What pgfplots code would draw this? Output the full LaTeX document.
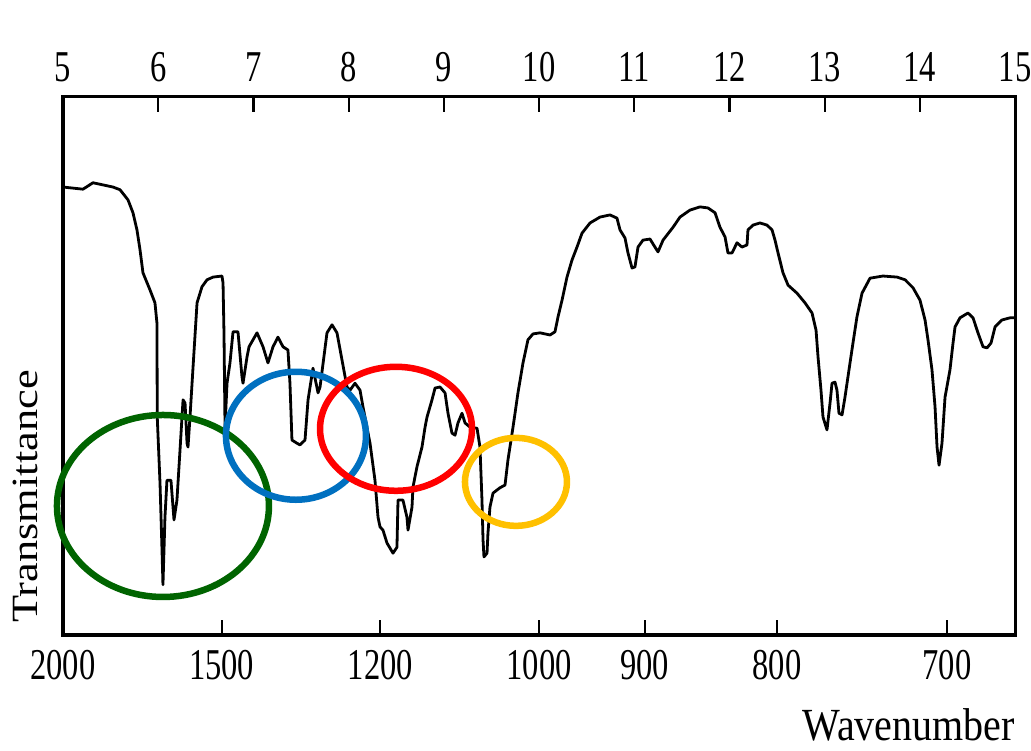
\documentclass[border=0pt]{standalone}
\usepackage{pgfplots}
\pgfplotsset{compat=1.18}
\usepackage{fontspec}
\setmainfont{Liberation Serif}
\definecolor{cgreen}{HTML}{006400}
\definecolor{cblue}{HTML}{0070C0}
\definecolor{cred}{HTML}{FF0000}
\definecolor{cyellow}{HTML}{FFC000}
\newcommand{\tl}[1]{\scalebox{0.74}[1]{#1}}
\begin{document}
\begin{tikzpicture}
\useasboundingbox (0,0) rectangle (1031bp,751bp);
\pgfplotsset{
  common/.style={
    at={(63bp,116bp)}, anchor=south west,
    scale only axis, width=952bp, height=538bp,
    xmin=5, xmax=15, ymin=-0.37, ymax=100,
    ytick=\empty,
    axis line style={line width=3bp, black},
    xtick align=inside,
    tickwidth=15bp,
    every tick/.style={black, line width=2.2bp},
    tick label style={font=\fontsize{44bp}{44bp}\selectfont, inner sep=0pt},
  }
}
\begin{axis}[common,
  xtick={5,6.6667,8.3333,10,11.1111,12.5,14.2857},
  xticklabels={\tl{2000},\tl{1500},\tl{1200},\tl{1000},\tl{900},\tl{800},\tl{700}},
  xtick pos=bottom,
  xticklabel style={anchor=north, yshift=-15bp},
  xlabel={\scalebox{0.87}[1]{Wavenumber}},
  xlabel style={at={(rel axis cs:1,-0.1952)}, anchor=base east, inner sep=0pt, font=\fontsize{46bp}{46bp}\selectfont},
  ylabel={\scalebox{1.2}[1]{Transmittance}},
  ylabel style={at={(rel axis cs:-0.0273,0.2574)}, anchor=base, inner sep=0pt, font=\fontsize{37bp}{37bp}\selectfont},
]
\addplot[black, line width=2.8bp, line join=round] coordinates {
(5.000,83.2)(5.210,82.8)(5.315,84.0)(5.525,83.2)(5.599,82.7)(5.683,80.8)(5.735,78.4)(5.777,75.2)
(5.809,71.5)(5.840,67.2)(5.914,64.0)(5.966,61.6)(5.987,57.8)(5.990,40.3)(6.019,28.0)(6.040,15.5)
(6.050,9.0)(6.071,21.6)(6.092,28.5)(6.134,28.5)(6.166,21.1)(6.197,24.8)(6.229,34.1)(6.261,43.5)
(6.282,42.9)(6.303,35.4)(6.313,34.7)(6.334,40.3)(6.366,49.6)(6.408,61.6)(6.460,64.6)(6.513,65.9)
(6.576,66.4)(6.670,66.6)(6.681,65.3)(6.691,56.0)(6.702,38.4)(6.723,46.6)(6.754,50.4)(6.786,56.2)
(6.838,56.2)(6.880,47.8)(6.891,46.6)(6.933,51.5)(6.954,53.4)(7.038,56.0)(7.101,53.4)(7.153,50.4)
(7.206,53.4)(7.258,55.2)(7.311,53.4)(7.363,52.8)(7.384,46.6)(7.405,36.0)(7.458,35.4)(7.489,35.1)
(7.542,36.0)(7.574,43.5)(7.626,49.4)(7.679,44.8)(7.700,45.9)(7.773,56.0)(7.826,57.5)(7.878,56.0)
(7.931,50.9)(7.983,45.9)(8.015,45.3)(8.067,46.6)(8.120,45.3)(8.151,42.2)(8.225,35.4)(8.277,28.5)
(8.309,21.6)(8.330,19.8)(8.361,19.2)(8.403,16.8)(8.466,14.9)(8.508,16.0)(8.519,24.8)(8.571,24.8)
(8.613,21.6)(8.624,19.2)(8.666,23.5)(8.676,27.2)(8.718,31.0)(8.771,34.7)(8.803,38.4)(8.824,40.3)
(8.876,43.5)(8.908,45.7)(8.960,45.9)(9.013,44.8)(9.044,41.0)(9.086,37.3)(9.118,36.9)(9.149,39.2)
(9.191,41.0)(9.223,39.2)(9.275,38.4)(9.349,38.2)(9.380,34.7)(9.401,24.8)(9.412,17.4)(9.422,14.2)
(9.454,14.9)(9.464,18.7)(9.485,23.5)(9.517,26.1)(9.590,27.1)(9.643,27.6)(9.674,32.3)(9.727,38.4)
(9.779,44.8)(9.832,50.4)(9.884,54.7)(9.937,55.8)(10.011,56.0)(10.116,55.6)(10.168,56.2)(10.200,59.0)
(10.242,62.1)(10.294,66.4)(10.347,69.6)(10.399,72.0)(10.452,74.6)(10.536,76.5)(10.641,77.6)(10.746,78.0)
(10.819,77.4)(10.851,75.2)(10.903,73.7)(10.935,70.9)(10.977,68.1)(11.008,68.3)(11.040,72.0)(11.092,73.3)
(11.166,73.5)(11.218,72.0)(11.250,71.1)(11.303,73.3)(11.408,75.7)(11.481,77.6)(11.586,78.9)(11.691,79.5)
(11.775,79.3)(11.849,78.4)(11.901,75.7)(11.954,73.9)(11.985,70.9)(12.027,70.9)(12.080,72.8)(12.132,72.0)
(12.185,72.4)(12.195,75.2)(12.248,76.1)(12.321,76.5)(12.395,76.1)(12.448,75.2)(12.479,73.3)(12.511,70.9)
(12.563,67.2)(12.616,64.9)(12.710,63.4)(12.794,61.6)(12.868,59.7)(12.910,56.5)(12.931,51.5)(12.962,45.3)
(12.983,40.3)(13.025,37.9)(13.057,42.9)(13.078,46.6)(13.109,46.8)(13.130,45.3)(13.151,41.0)(13.183,40.7)
(13.214,44.0)(13.267,50.4)(13.298,54.1)(13.340,59.0)(13.393,63.4)(13.477,66.2)(13.613,66.6)(13.761,66.4)
(13.845,65.9)(13.929,64.4)(14.002,62.1)(14.055,58.4)(14.086,54.7)(14.128,49.1)(14.160,42.2)(14.181,34.7)
(14.202,31.3)(14.233,35.4)(14.265,44.0)(14.317,49.1)(14.349,54.1)(14.370,57.1)(14.422,58.8)(14.506,59.7)
(14.559,58.8)(14.611,56.0)(14.664,53.4)(14.706,53.2)(14.748,54.1)(14.790,57.1)(14.863,58.4)(14.947,58.8)
(15.000,58.8)
};
\end{axis}
\begin{axis}[common, clip=false,
  xtick={5,6,...,15},
  xticklabels={\tl{5},\tl{6},\tl{7},\tl{8},\tl{9},\tl{10},\tl{11},\tl{12},\tl{13},\tl{14},\tl{15}},
  xtick pos=top, xticklabel pos=top,
  xticklabel style={anchor=south, yshift=15bp},
]
\draw[cgreen, line width=6.5bp] (axis cs:6.050,23.7) ellipse [x radius=106bp, y radius=91bp];
\draw[cblue, line width=6.5bp] (axis cs:7.447,36.8) ellipse [x radius=70bp, y radius=64bp];
\draw[cred, line width=6.5bp] (axis cs:8.498,38.1) ellipse [x radius=76bp, y radius=62bp];
\draw[cyellow, line width=6.5bp] (axis cs:9.758,28.2) ellipse [x radius=51bp, y radius=44bp];
\end{axis}
\end{tikzpicture}
\end{document}
